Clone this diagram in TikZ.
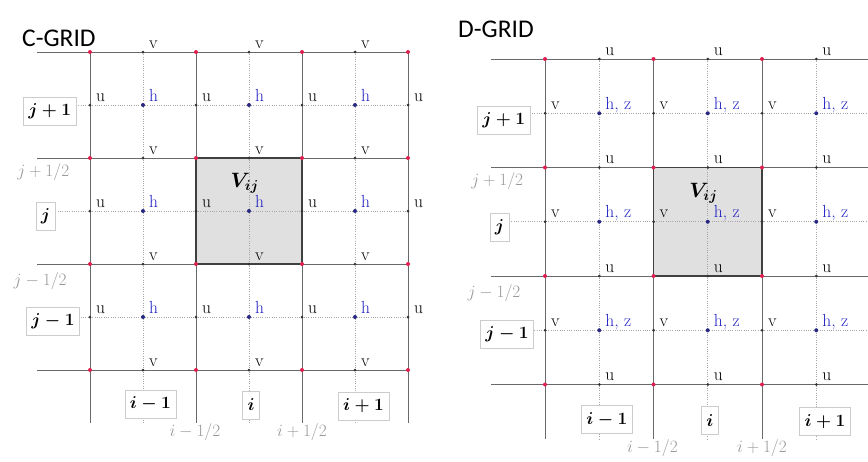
\documentclass[tikz,border=0pt]{standalone}
\usepackage{fontspec}
\newfontfamily\titulo{Carlito}

\definecolor{pontovermelho}{RGB}{225,30,80}
\definecolor{azulh}{RGB}{30,30,195}
\definecolor{azulponto}{RGB}{40,40,130}
\definecolor{linha}{RGB}{105,105,105}

\tikzset{
  rotulo/.style={anchor=base west, inner sep=0pt, xshift=6pt, yshift=4pt},
  indice/.style={draw=black!20, fill=white, inner xsep=5pt, inner ysep=5pt, minimum height=28pt},
  meio/.style={inner sep=2pt},
  malha/.style={line width=1pt, draw=linha},
  pontilhado/.style={line width=0.8pt, draw=black!35, dash pattern=on 0.9pt off 1.4pt},
  titulos/.style={anchor=base west, inner sep=0pt, font=\titulo\fontsize{25.5}{28}\selectfont}
}

% Indices compostos antes da figura
\newcommand{\tamanho}{\fontsize{17.5}{20}\selectfont}
\newsavebox{\jmais}\newsavebox{\jzero}\newsavebox{\jmenos}
\newsavebox{\imais}\newsavebox{\izero}\newsavebox{\imenos}
\newsavebox{\jmeiomais}\newsavebox{\jmeiomenos}
\newsavebox{\imeiomais}\newsavebox{\imeiomenos}
\newsavebox{\volume}

\begin{document}
\sbox{\jmais}{\tamanho\boldmath$j+1$}%
\sbox{\jzero}{\tamanho\boldmath$j$}%
\sbox{\jmenos}{\tamanho\boldmath$j-1$}%
\sbox{\imais}{\tamanho\boldmath$i+1$}%
\sbox{\izero}{\tamanho\boldmath$i$}%
\sbox{\imenos}{\tamanho\boldmath$i-1$}%
\sbox{\jmeiomais}{\tamanho\color{black!40}$j+1/2$}%
\sbox{\jmeiomenos}{\tamanho\color{black!40}$j-1/2$}%
\sbox{\imeiomais}{\tamanho\color{black!40}$i+1/2$}%
\sbox{\imeiomenos}{\tamanho\color{black!40}$i-1/2$}%
\sbox{\volume}{\fontsize{20}{24}\selectfont\boldmath$V_{ij}$}%
\begin{tikzpicture}[x=1pt, y=-1pt, every node/.style={font=\tamanho}]
    \useasboundingbox (0,0) rectangle (868,461);
    \clip (0,0) rectangle (868,461);
    % Titulos
    \node[titulos] (tituloC) at (22,46) {C-GRID};
    \node[titulos] (tituloD) at (458,37) {D-GRID};
    % Grade C
    \begin{scope}[shift={(90,52)}, x=106pt, y=-106pt]
        \fill[black!12] (1,1) rectangle (2,2);
        \foreach \mm in {0.5,1.5,2.5} {
            \draw[pontilhado] (-0.5,\mm) -- (3,\mm);
            \draw[pontilhado] (\mm,0) -- (\mm,3.5);
        }
        \foreach \kk in {0,...,3} {
            \draw[malha] (-0.5,\kk) -- (3,\kk);
            \draw[malha] (\kk,0) -- (\kk,3.5);
        }
        \draw[line width=1.5pt, draw=black!75] (1,1) rectangle (2,2);
        \foreach \ii in {0,...,3} {
            \foreach \rr in {0.5,1.5,2.5} {
                \fill[black!80] (\ii,\rr) circle[radius=1.5pt];
                \fill[black!80] (\rr,\ii) circle[radius=1.5pt];
            }
        }
        \foreach \ii in {0,...,3} {
            \foreach \kk in {0,...,3} {
                \fill[pontovermelho] (\ii,\kk) circle[radius=2pt];
            }
        }
        \foreach \ii in {0.5,1.5,2.5} {
            \foreach \kk in {0.5,1.5,2.5} {
                \fill[azulponto] (\ii,\kk) circle[radius=2pt];
            }
        }
        \node[indice] (C-jp) at (-0.38,0.56) {\usebox{\jmais}};
        \node[indice] (C-j) at (-0.42,1.55) {\usebox{\jzero}};
        \node[indice] (C-jm) at (-0.35,2.54) {\usebox{\jmenos}};
        \node[indice] (C-im) at (0.57,3.32) {\usebox{\imenos}};
        \node[indice] (C-i) at (1.52,3.33) {\usebox{\izero}};
        \node[indice] (C-ip) at (2.58,3.34) {\usebox{\imais}};
        \node[meio] (C-jph) at (-0.44,1.13) {\usebox{\jmeiomais}};
        \node[meio] (C-jmh) at (-0.47,2.16) {\usebox{\jmeiomenos}};
        \node[meio] (C-imh) at (0.99,3.59) {\usebox{\imeiomenos}};
        \node[meio] (C-iph) at (2.0,3.59) {\usebox{\imeiomais}};
        \node (C-V) at (1.46,1.24) {\usebox{\volume}};
        \foreach \ii in {0,...,3} {
            \foreach \rr [count=\nn] in {0.5,1.5,2.5} {
                \node[rotulo] (C-u-\ii-\nn) at (\ii,\rr) {u};
                \node[rotulo] (C-v-\nn-\ii) at (\rr,\ii) {v};
            }
        }
        \foreach \ii [count=\na] in {0.5,1.5,2.5} {
            \foreach \kk [count=\nb] in {0.5,1.5,2.5} {
                \node[rotulo, text=azulh] (C-h-\na-\nb) at (\ii,\kk) {h};
            }
        }
    \end{scope}
    % Grade D
    \begin{scope}[shift={(545,59)}, x=108.5pt, y=-108.5pt]
        \fill[black!12] (1,1) rectangle (2,2);
        \foreach \mm in {0.5,1.5,2.5} {
            \draw[pontilhado] (-0.5,\mm) -- (3,\mm);
            \draw[pontilhado] (\mm,0) -- (\mm,3.5);
        }
        \foreach \kk in {0,...,3} {
            \draw[malha] (-0.5,\kk) -- (3,\kk);
            \draw[malha] (\kk,0) -- (\kk,3.5);
        }
        \draw[line width=1.5pt, draw=black!75] (1,1) rectangle (2,2);
        \foreach \ii in {0,...,3} {
            \foreach \rr in {0.5,1.5,2.5} {
                \fill[black!80] (\ii,\rr) circle[radius=1.5pt];
                \fill[black!80] (\rr,\ii) circle[radius=1.5pt];
            }
        }
        \foreach \ii in {0,...,3} {
            \foreach \kk in {0,...,3} {
                \fill[pontovermelho] (\ii,\kk) circle[radius=2pt];
            }
        }
        \foreach \ii in {0.5,1.5,2.5} {
            \foreach \kk in {0.5,1.5,2.5} {
                \fill[azulponto] (\ii,\kk) circle[radius=2pt];
            }
        }
        \node[indice] (D-jp) at (-0.38,0.56) {\usebox{\jmais}};
        \node[indice] (D-j) at (-0.42,1.55) {\usebox{\jzero}};
        \node[indice] (D-jm) at (-0.35,2.54) {\usebox{\jmenos}};
        \node[indice] (D-im) at (0.57,3.32) {\usebox{\imenos}};
        \node[indice] (D-i) at (1.52,3.33) {\usebox{\izero}};
        \node[indice] (D-ip) at (2.58,3.34) {\usebox{\imais}};
        \node[meio] (D-jph) at (-0.44,1.13) {\usebox{\jmeiomais}};
        \node[meio] (D-jmh) at (-0.47,2.16) {\usebox{\jmeiomenos}};
        \node[meio] (D-imh) at (0.99,3.59) {\usebox{\imeiomenos}};
        \node[meio] (D-iph) at (2.0,3.59) {\usebox{\imeiomais}};
        \node (D-V) at (1.46,1.24) {\usebox{\volume}};
        \foreach \ii in {0,...,2} {
            \foreach \rr [count=\nn] in {0.5,1.5,2.5} {
                \node[rotulo] (D-v-\ii-\nn) at (\ii,\rr) {v};
            }
        }
        \foreach \ii in {0,...,3} {
            \foreach \rr [count=\nn] in {0.5,1.5,2.5} {
                \node[rotulo] (D-u-\nn-\ii) at (\rr,\ii) {u};
            }
        }
        \foreach \ii [count=\na] in {0.5,1.5,2.5} {
            \foreach \kk [count=\nb] in {0.5,1.5,2.5} {
                \node[rotulo, text=azulh] (D-h-\na-\nb) at (\ii,\kk) {h, z};
            }
        }
    \end{scope}
\end{tikzpicture}
\end{document}
